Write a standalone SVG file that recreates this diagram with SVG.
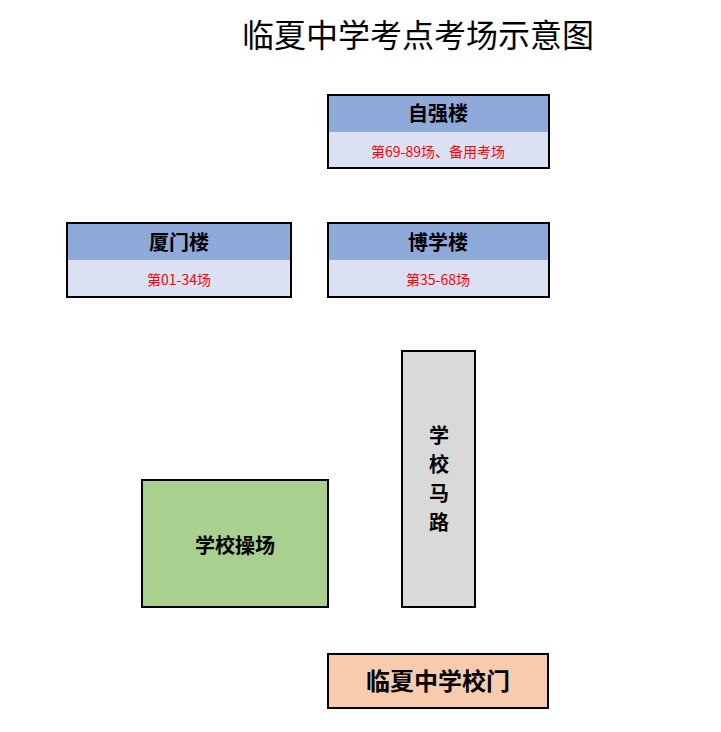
<svg xmlns="http://www.w3.org/2000/svg" width="721" height="732" viewBox="0 0 721 732">
<style>
.t{font-family:"Noto Sans CJK SC",sans-serif;text-anchor:middle}
.h{font-size:20px;font-weight:bold;fill:#000}
.s{font-size:14px;fill:#ff0000}
.b{stroke:#000;stroke-width:2}
.hd{fill:#8eaadb}
.bd{fill:#d9e1f2}
</style>
<rect width="721" height="732" fill="#fff"/>
<text class="t" x="418" y="47" font-size="32" fill="#000">临夏中学考点考场示意图</text>
<g id="ziqiang">
<rect class="hd" x="328" y="95" width="221" height="37"/><rect class="bd" x="328" y="132" width="221" height="36"/>
<rect class="b" x="328" y="95" width="221" height="73" fill="none"/>
<text class="t h" x="438" y="121">自强楼</text>
<text class="t s" x="438" y="157">第69-89场、备用考场</text>
</g>
<g id="xiamen">
<rect class="hd" x="67" y="223" width="224" height="37"/><rect class="bd" x="67" y="260" width="224" height="37"/>
<rect class="b" x="67" y="223" width="224" height="74" fill="none"/>
<text class="t h" x="179" y="250">厦门楼</text>
<text class="t s" x="179" y="285">第01-34场</text>
</g>
<g id="boxue">
<rect class="hd" x="328" y="223" width="221" height="37"/><rect class="bd" x="328" y="260" width="221" height="37"/>
<rect class="b" x="328" y="223" width="221" height="74" fill="none"/>
<text class="t h" x="438" y="250">博学楼</text>
<text class="t s" x="438" y="285">第35-68场</text>
</g>
<g id="road">
<rect class="b" x="402" y="351" width="73" height="256" fill="#d9d9d9"/>
<text class="t h" x="439" y="443">学</text>
<text class="t h" x="439" y="472">校</text>
<text class="t h" x="439" y="501">马</text>
<text class="t h" x="439" y="530">路</text>
</g>
<g id="field">
<rect class="b" x="142" y="480" width="186" height="127" fill="#a9d08e"/>
<text class="t h" x="235" y="553">学校操场</text>
</g>
<g id="gate">
<rect class="b" x="328" y="654" width="220" height="54" fill="#f8cbad"/>
<text class="t" x="438" y="690" font-size="24" font-weight="bold">临夏中学校门</text>
</g>
<g id="connectors"/>
</svg>
